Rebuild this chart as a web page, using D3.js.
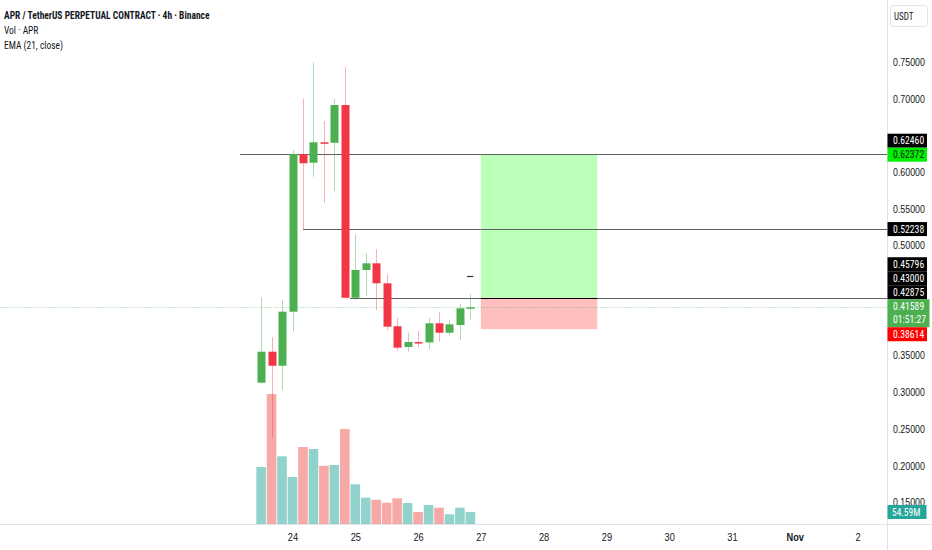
<!DOCTYPE html>
<html>
<head>
<meta charset="utf-8">
<script src="https://cdn.jsdelivr.net/npm/d3@7/dist/d3.min.js"></script>
<style>
  html, body { margin: 0; padding: 0; background: #fff; }
  svg { display: block; font-family: 'Liberation Sans Narrow', 'Arial Narrow', 'Roboto Condensed', 'Liberation Sans', sans-serif; }
</style>
</head>
<body>
<div id="chart"></div>
<script>
// 4h candles, APR/USDT perp
const candleTimes = [
  '2025-10-23T12:00', '2025-10-23T16:00', '2025-10-23T20:00',
  '2025-10-24T00:00', '2025-10-24T04:00', '2025-10-24T08:00', '2025-10-24T12:00', '2025-10-24T16:00', '2025-10-24T20:00',
  '2025-10-25T00:00', '2025-10-25T04:00', '2025-10-25T08:00', '2025-10-25T12:00', '2025-10-25T16:00', '2025-10-25T20:00',
  '2025-10-26T00:00', '2025-10-26T04:00', '2025-10-26T08:00', '2025-10-26T12:00', '2025-10-26T16:00', '2025-10-26T20:00'
];
const opens  = [0.3131, 0.3553, 0.3362, 0.4098, 0.6246, 0.6128, 0.6406, 0.6400, 0.6914, 0.4288, 0.4666, 0.4757, 0.4485, 0.3900, 0.3617, 0.3685, 0.3680, 0.3940, 0.3812, 0.3917, 0.4144];
const highs  = [0.4294, 0.3750, 0.4257, 0.6301, 0.6996, 0.7496, 0.6696, 0.6996, 0.7428, 0.5153, 0.4894, 0.4948, 0.4612, 0.4016, 0.3812, 0.3835, 0.4016, 0.4094, 0.3985, 0.4203, 0.4339];
const lows   = [0.3120, 0.2387, 0.3031, 0.3826, 0.5224, 0.5937, 0.5583, 0.5747, 0.4285, 0.4257, 0.4316, 0.4121, 0.3849, 0.3567, 0.3553, 0.3613, 0.3586, 0.3690, 0.3771, 0.3713, 0.3995];
const closes = [0.3553, 0.3362, 0.4098, 0.6246, 0.6120, 0.6406, 0.6395, 0.6914, 0.4288, 0.4666, 0.4757, 0.4485, 0.3894, 0.3608, 0.3685, 0.3678, 0.3940, 0.3812, 0.3926, 0.4144, 0.41589];
// volume in millions
const volumes = [243.6, 550.0, 288.5, 201.6, 327.6, 319.0, 249.0, 252.0, 403.0, 171.0, 114.7, 106.0, 93.7, 112.0, 92.4, 54.6, 84.0, 72.7, 45.0, 72.7, 54.59];

const priceTicks = [0.15, 0.20, 0.25, 0.30, 0.35, 0.40, 0.45, 0.50, 0.55, 0.60, 0.65, 0.70, 0.75];
const dayTicks = ['2025-10-24', '2025-10-25', '2025-10-26', '2025-10-27', '2025-10-28', '2025-10-29', '2025-10-30', '2025-10-31', '2025-11-01', '2025-11-02'];
const dayLabels = ['24', '25', '26', '27', '28', '29', '30', '31', 'Nov', '2'];

// horizontal levels drawn on the chart
const levelPrices = [0.62460, 0.52238, 0.42875];
const levelStarts = ['2025-10-23T04:00', '2025-10-24T04:00', '2025-10-24T22:00'];

// long position tool
const positionStart = '2025-10-27T00:00';
const positionEnd = '2025-10-28T20:30';
const entryPrice = 0.42875;
const targetPrice = 0.62460;
const stopPrice = 0.38614;

const alertPrice = 0.45796;

// right scale tags
const tagPrices = [0.62460, 0.62372, 0.52238, 0.45796, 0.43000, 0.42875, 0.41589, 0.38614];
const tagKinds  = ['level', 'target', 'level', 'level', 'level', 'level', 'last', 'stop'];
const lastCountdown = '01:51:27';
const lastVolumeLabel = '54.59M';

const titleLines = ['APR / TetherUS PERPETUAL CONTRACT · 4h · Binance', 'Vol · APR', 'EMA (21, close)'];

const width = 932;
const height = 550;
const plotRight = 887;
const axisY = 524.5;

const parseTime = d3.timeParse('%Y-%m-%dT%H:%M');
const parseDay = d3.timeParse('%Y-%m-%d');

const candles = candleTimes.map((t, i) => ({
  t: parseTime(t), o: opens[i], h: highs[i], l: lows[i], c: closes[i], v: volumes[i],
}));

const x = d3.scaleTime()
  .domain([parseDay('2025-10-24'), parseDay('2025-11-02')])
  .range([292.5, 857.5]);

const y = d3.scaleLinear().domain([0.15, 0.75]).range([502.4, 62]);

const yVol = d3.scaleLinear().domain([0, 600]).range([525, 525 - 600 / 4.2]);

// squeeze text horizontally, the reference font is narrower than anything installed
function squeeze(sel, k) {
  sel.each(function () {
    const len = this.getComputedTextLength();
    if (len > 0) {
      d3.select(this).attr('textLength', len * k).attr('lengthAdjust', 'spacingAndGlyphs');
    }
  });
}

const svg = d3.select('#chart')
  .append('svg')
  .attr('width', width)
  .attr('height', height)
  .attr('viewBox', `0 0 ${width} ${height}`);

svg.append('defs').append('clipPath').attr('id', 'plotClip')
  .append('rect').attr('x', 0).attr('y', 0).attr('width', plotRight).attr('height', axisY);

const plot = svg.append('g').attr('clip-path', 'url(#plotClip)');

// Volume
const barW = 9.6;
plot.selectAll('.vol')
  .data(candles)
  .enter()
  .append('rect')
  .attr('class', 'vol')
  .attr('x', (d) => x(d.t) - barW / 2)
  .attr('y', (d) => yVol(d.v))
  .attr('width', barW)
  .attr('height', (d) => yVol(0) - yVol(d.v))
  .attr('fill', (d) => (d.c >= d.o ? '#92d2cc' : '#f7a9a7'));

// Position tool
const px0 = x(parseTime(positionStart));
const px1 = x(parseTime(positionEnd));
plot.append('rect')
  .attr('x', px0).attr('width', px1 - px0)
  .attr('y', y(targetPrice)).attr('height', y(entryPrice) - y(targetPrice))
  .attr('fill', '#bbffb8');
plot.append('rect')
  .attr('x', px0).attr('width', px1 - px0)
  .attr('y', y(entryPrice)).attr('height', y(stopPrice) - y(entryPrice))
  .attr('fill', '#ffbfbf');

// Current price line
plot.append('line')
  .attr('x1', 0).attr('x2', plotRight)
  .attr('y1', Math.round(y(closes[closes.length - 1])) + 0.5)
  .attr('y2', Math.round(y(closes[closes.length - 1])) + 0.5)
  .attr('stroke', 'rgba(76,175,80,0.3)')
  .attr('stroke-width', 1)
  .attr('stroke-dasharray', '2 1');

// Horizontal levels
plot.selectAll('.level')
  .data(levelPrices)
  .enter()
  .append('line')
  .attr('class', 'level')
  .attr('x1', (d, i) => x(parseTime(levelStarts[i])))
  .attr('x2', plotRight)
  .attr('y1', (d) => Math.round(y(d)) + 0.5)
  .attr('y2', (d) => Math.round(y(d)) + 0.5)
  .attr('stroke', '#606060')
  .attr('stroke-width', 1.2);

plot.append('line')
  .attr('x1', px0).attr('x2', px1)
  .attr('y1', Math.round(y(entryPrice)) + 0.5)
  .attr('y2', Math.round(y(entryPrice)) + 0.5)
  .attr('stroke', '#000')
  .attr('stroke-width', 1.2);

// Alert dash
const lastX = x(candles[candles.length - 1].t);
plot.append('line')
  .attr('x1', lastX - 3.5).attr('x2', lastX + 3)
  .attr('y1', Math.round(y(alertPrice)) + 0.5)
  .attr('y2', Math.round(y(alertPrice)) + 0.5)
  .attr('stroke', '#333')
  .attr('stroke-width', 1.2);

// Candles
const bodyW = 8;
const cg = plot.selectAll('.candle')
  .data(candles)
  .enter()
  .append('g')
  .attr('class', 'candle');

cg.append('line')
  .attr('x1', (d) => Math.round(x(d.t)) + 0.5)
  .attr('x2', (d) => Math.round(x(d.t)) + 0.5)
  .attr('y1', (d) => y(d.h))
  .attr('y2', (d) => y(d.l))
  .attr('stroke', (d) => (d.c >= d.o ? 'rgba(76,175,80,0.45)' : 'rgba(242,54,69,0.4)'))
  .attr('stroke-width', 1);

cg.append('rect')
  .attr('x', (d) => Math.round(x(d.t)) + 0.5 - bodyW / 2)
  .attr('y', (d) => y(Math.max(d.o, d.c)))
  .attr('width', bodyW)
  .attr('height', (d) => Math.max(1.5, Math.abs(y(d.o) - y(d.c))))
  .attr('fill', (d) => (d.c >= d.o ? '#4caf50' : '#f23645'));

// Right price scale
svg.append('line')
  .attr('x1', plotRight + 0.5).attr('x2', plotRight + 0.5)
  .attr('y1', 0).attr('y2', height)
  .attr('stroke', '#e0e3eb');

svg.append('line')
  .attr('x1', 0).attr('x2', width)
  .attr('y1', axisY).attr('y2', axisY)
  .attr('stroke', '#e0e3eb');

// Price tags, stacked around the last price box
const tagH = 14;
const tagStyle = {
  level: { bg: '#000000', fg: '#ffffff' },
  target: { bg: '#00f000', fg: '#131722' },
  last: { bg: '#4caf50', fg: '#ffffff' },
  stop: { bg: '#ff0000', fg: '#ffffff' },
};
const tags = tagPrices.map((p, i) => ({ p, kind: tagKinds[i], yy: y(p) }));
const lastTag = tags.find((t) => t.kind === 'last');
lastTag.top = lastTag.yy - 8;
lastTag.h = 28;
const targetTag = tags.find((t) => t.kind === 'target');
targetTag.top = targetTag.yy - tagH / 2;
targetTag.h = tagH;

// above the last price: push labels upward
let limit = lastTag.top;
tags.filter((t) => t.p > lastTag.p && t !== targetTag)
  .sort((a, b) => a.p - b.p)
  .forEach((t) => {
    let top = t.yy - tagH / 2;
    if (Math.abs(t.yy - targetTag.yy) < tagH) top = targetTag.top - tagH;
    if (top + tagH > limit) top = limit - tagH;
    t.top = top;
    t.h = tagH;
    limit = top;
  });
// below the last price: push labels downward
limit = lastTag.top + lastTag.h;
tags.filter((t) => t.p < lastTag.p)
  .sort((a, b) => b.p - a.p)
  .forEach((t) => {
    let top = t.yy - tagH / 2;
    if (top < limit) top = limit;
    t.top = top;
    t.h = tagH;
    limit = top + tagH;
  });

// tick labels hidden behind a tag are left out, as on the original scale
const visibleTicks = priceTicks.filter((p) => {
  const py = y(p);
  return !tags.some((t) => py + 5 > t.top && py - 5 < t.top + t.h);
});

const yAxis = d3.axisRight(y)
  .tickValues(visibleTicks)
  .tickFormat(d3.format('.5f'))
  .tickSize(0)
  .tickPadding(6);

svg.append('g')
  .attr('transform', `translate(${plotRight},0)`)
  .call(yAxis)
  .call((g) => g.select('.domain').remove())
  .call((g) => g.selectAll('text')
    .attr('fill', '#131722')
    .attr('font-size', 10.5)
    .attr('font-family', null))
  .call((g) => squeeze(g.selectAll('text'), 0.84));

// Bottom time scale
const xAxis = d3.axisBottom(x)
  .tickValues(dayTicks.map(parseDay))
  .tickFormat((d, i) => dayLabels[i])
  .tickSize(0)
  .tickPadding(9);

svg.append('g')
  .attr('transform', `translate(0,${axisY})`)
  .call(xAxis)
  .call((g) => g.select('.domain').remove())
  .call((g) => g.selectAll('text')
    .attr('fill', '#131722')
    .attr('font-size', 10.5)
    .attr('font-family', null)
    .attr('font-weight', (d, i) => (dayLabels[i] === 'Nov' ? 'bold' : null)))
  .call((g) => squeeze(g.selectAll('text'), 0.88));

const tagG = svg.append('g');
tags.forEach((t) => {
  const s = tagStyle[t.kind];
  const w = t.kind === 'last' ? 42 : 39.5;
  tagG.append('rect')
    .attr('x', plotRight + 0.5).attr('y', t.top)
    .attr('width', w).attr('height', t.h)
    .attr('fill', s.bg);
  tagG.append('text')
    .attr('x', plotRight + 6).attr('y', t.top + tagH / 2)
    .attr('dy', '0.35em')
    .attr('fill', s.fg)
    .attr('font-size', 10.5)
    .text(d3.format('.5f')(t.p));
  if (t.kind === 'last') {
    tagG.append('text')
      .attr('x', plotRight + 6).attr('y', t.top + tagH / 2 + 13)
      .attr('dy', '0.35em')
      .attr('fill', s.fg)
      .attr('font-size', 10.5)
      .text(lastCountdown);
  }
});
squeeze(tagG.selectAll('text'), 0.92);

// Last volume tag
const lastVol = candles[candles.length - 1].v;
svg.append('rect')
  .attr('x', plotRight + 0.5).attr('y', yVol(lastVol) - 7)
  .attr('width', 39).attr('height', 14)
  .attr('fill', '#26a69a');
svg.append('text')
  .attr('x', plotRight + 5).attr('y', yVol(lastVol))
  .attr('dy', '0.35em')
  .attr('fill', '#ffffff')
  .attr('font-size', 10.5)
  .text(lastVolumeLabel)
  .call((s) => squeeze(s, 0.9));

// Currency box
svg.append('rect')
  .attr('x', 890.5).attr('y', 5.5).attr('width', 37).attr('height', 21)
  .attr('rx', 3)
  .attr('fill', '#fff')
  .attr('stroke', '#e0e3eb');
svg.append('text')
  .attr('x', 894).attr('y', 16).attr('dy', '0.35em')
  .attr('fill', '#131722')
  .attr('font-size', 10)
  .text('USDT')
  .call((s) => squeeze(s, 0.9));

// Legend
svg.selectAll('.legend')
  .data(titleLines)
  .enter()
  .append('text')
  .attr('class', 'legend')
  .attr('x', 4)
  .attr('y', (d, i) => 19 + i * 15)
  .attr('fill', '#131722')
  .attr('font-size', 11)
  .attr('font-weight', (d, i) => (i === 0 ? 'bold' : null))
  .text((d) => d)
  .call((s) => squeeze(s, 0.86));
</script>
</body>
</html>
